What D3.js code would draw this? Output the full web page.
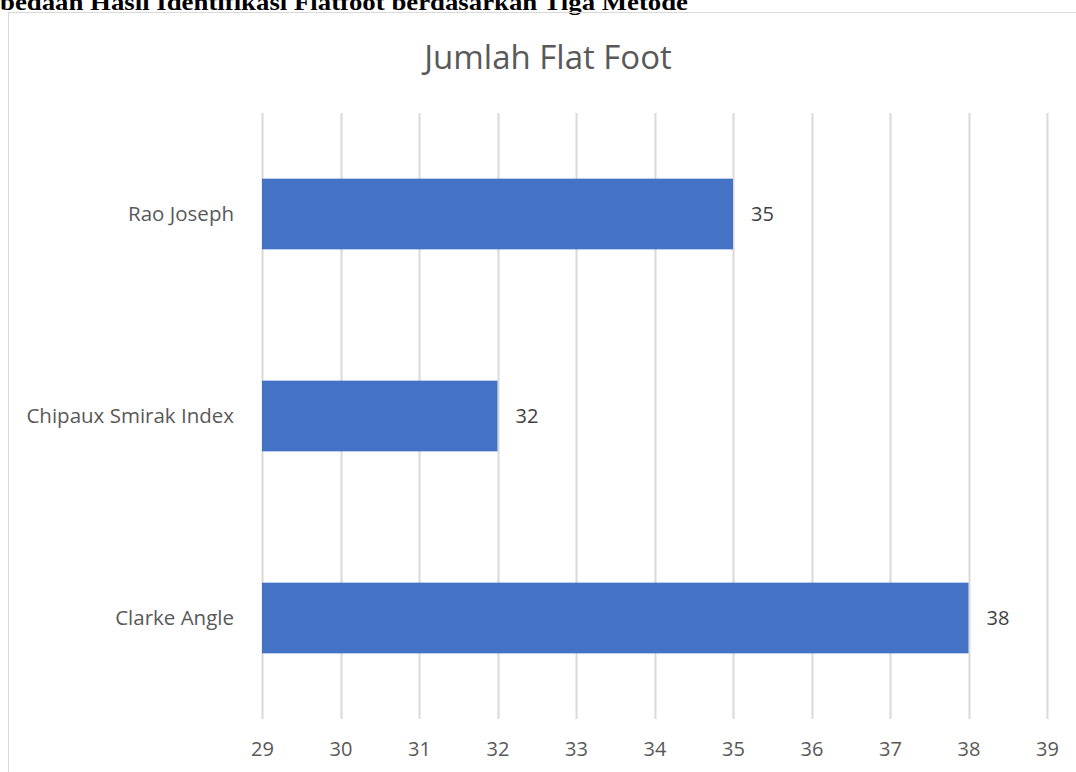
<!DOCTYPE html>
<html>
<head>
<meta charset="utf-8">
<script src="https://cdn.jsdelivr.net/npm/d3@7"></script>
<style>
  body { margin: 0; background: #fff; overflow: hidden; }
  svg { display: block; }
</style>
</head>
<body>
<div id="chart"></div>
<script>
// data
var categories = ["Rao Joseph", "Chipaux Smirak Index", "Clarke Angle"];
var values = [35, 32, 38];
var xTicks = [29, 30, 31, 32, 33, 34, 35, 36, 37, 38, 39];
var chartTitle = "Jumlah Flat Foot";
var captionText = "bedaan Hasil Identifikasi Flatfoot berdasarkan Tiga Metode";

var W = 1076, H = 772;
var margin = {top: 113, right: 29, bottom: 53, left: 262};
var width = W - margin.left - margin.right,
    height = H - margin.top - margin.bottom;

var svg = d3.select("#chart")
  .append("svg")
    .attr("width", W)
    .attr("height", H);

// caption cut off at the top of the page (as in the source)
svg.append("text")
    .attr("x", 0)
    .attr("y", 10)
    .style("font-family", "'Liberation Serif', 'Times New Roman', serif")
    .style("font-weight", "bold")
    .style("font-size", "24px")
    .attr("textLength", 688)
    .attr("lengthAdjust", "spacingAndGlyphs")
    .text(captionText);

// chart frame
svg.append("rect")
    .attr("x", 8.5)
    .attr("y", 12.5)
    .attr("width", W + 20)
    .attr("height", H + 20)
    .attr("fill", "none")
    .attr("stroke", "#d9d9d9")
    .attr("stroke-width", 1);

var g = svg.append("g")
    .attr("transform", "translate(" + margin.left + "," + margin.top + ")");

var x = d3.scaleLinear()
    .domain([29, 39])
    .range([0, width]);

var y = d3.scaleBand()
    .domain(categories)
    .range([0, height])
    .paddingInner(0.65)
    .paddingOuter(0.325);

// vertical gridlines
g.selectAll(".grid")
  .data(xTicks)
  .enter()
  .append("line")
    .attr("class", "grid")
    .attr("x1", d => Math.round(x(d)) + 0.5)
    .attr("x2", d => Math.round(x(d)) + 0.5)
    .attr("y1", 0)
    .attr("y2", height)
    .attr("stroke", "#d9d9d9")
    .attr("stroke-width", 2);

// x axis labels
var xAxis = g.append("g")
    .attr("transform", "translate(0," + height + ")")
    .call(d3.axisBottom(x).tickValues(xTicks).tickSize(0).tickPadding(23).tickFormat(d3.format("d")));
xAxis.select(".domain").remove();
xAxis.selectAll("text")
    .style("font-family", "'Open Sans', sans-serif")
    .style("font-size", "20px")
    .attr("fill", "#595959");

// y axis labels
var yAxis = g.append("g")
    .call(d3.axisLeft(y).tickSize(0).tickPadding(28));
yAxis.select(".domain").remove();
yAxis.selectAll("text")
    .style("font-family", "'Open Sans', sans-serif")
    .style("font-size", "20.5px")
    .attr("fill", "#595959");

// bars
g.selectAll(".bar")
  .data(categories)
  .enter()
  .append("rect")
    .attr("class", "bar")
    .attr("x", x(29))
    .attr("y", d => y(d))
    .attr("width", (d, i) => x(values[i]) - x(29))
    .attr("height", y.bandwidth())
    .attr("fill", "#4472c4");

// data labels
g.selectAll(".lbl")
  .data(categories)
  .enter()
  .append("text")
    .attr("class", "lbl")
    .attr("x", (d, i) => x(values[i]) + 18)
    .attr("y", d => y(d) + y.bandwidth() / 2)
    .attr("dy", "0.35em")
    .style("font-family", "'Open Sans', sans-serif")
    .style("font-size", "20px")
    .attr("fill", "#404040")
    .text((d, i) => values[i]);

// title
svg.append("text")
    .attr("x", 548)
    .attr("y", 69)
    .attr("text-anchor", "middle")
    .style("font-family", "'Open Sans', sans-serif")
    .style("font-size", "33px")
    .attr("fill", "#595959")
    .text(chartTitle);
</script>
</body>
</html>
